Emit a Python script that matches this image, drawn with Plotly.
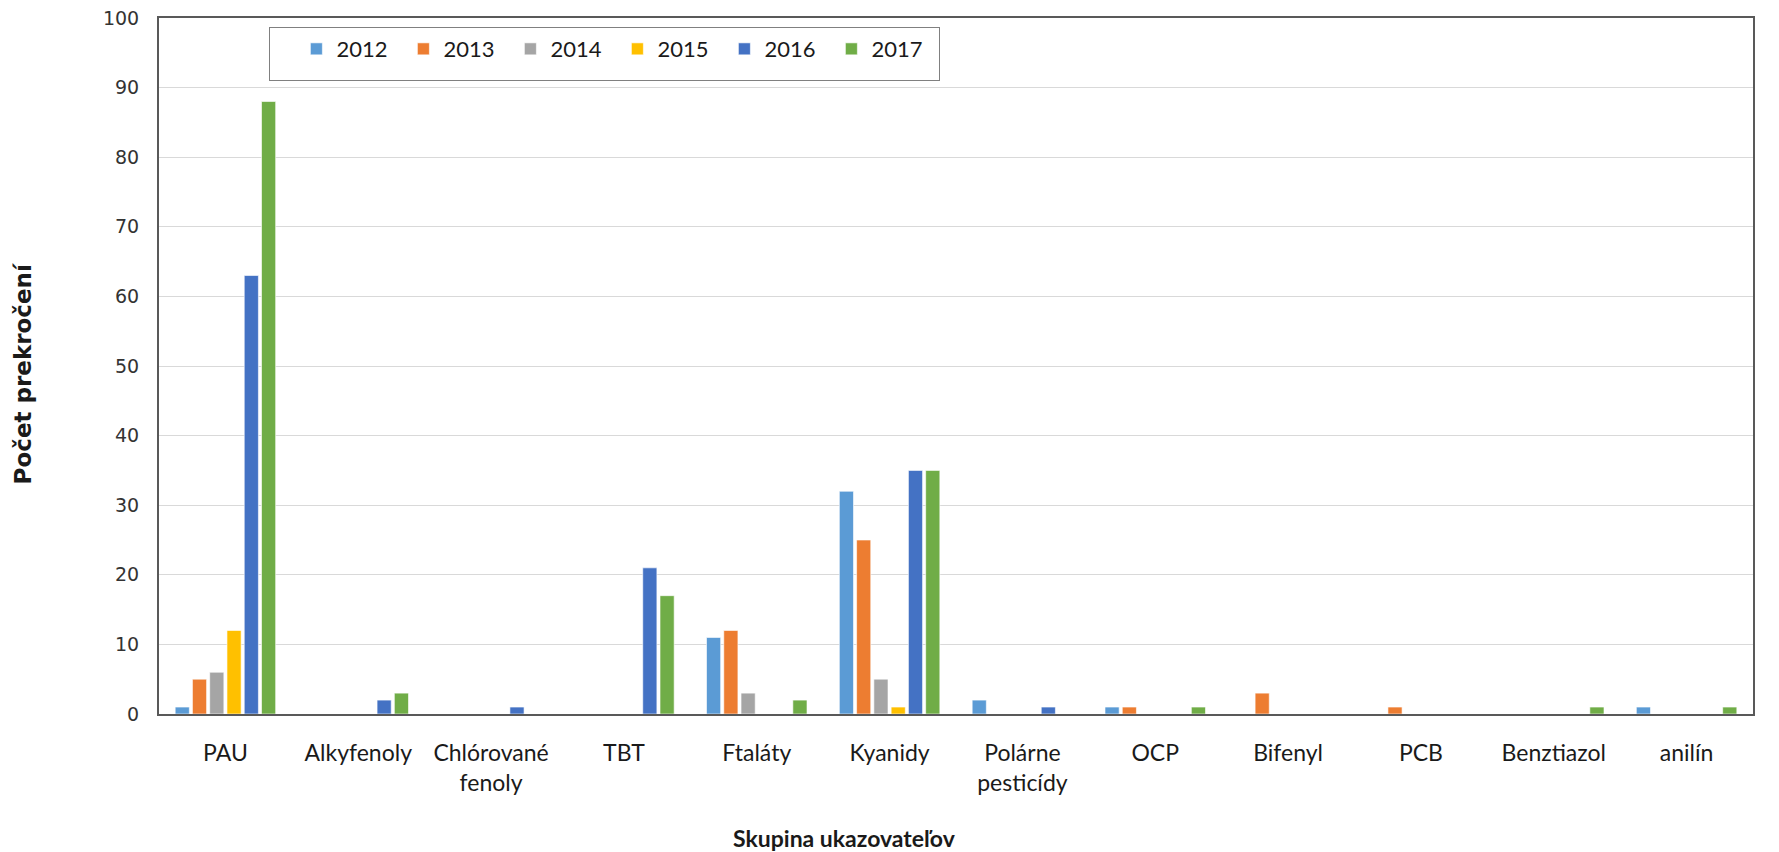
import plotly.graph_objects as go

categories = ["PAU", "Alkyfenoly", "Chlórované<br>fenoly", "TBT", "Ftaláty", "Kyanidy",
              "Polárne<br>pesticídy", "OCP", "Bifenyl", "PCB", "Benztiazol", "anilín"]
years = ["2012", "2013", "2014", "2015", "2016", "2017"]
v2012 = [1, 0, 0, 0, 11, 32, 2, 1, 0, 0, 0, 1]
v2013 = [5, 0, 0, 0, 12, 25, 0, 1, 3, 1, 0, 0]
v2014 = [6, 0, 0, 0, 3, 5, 0, 0, 0, 0, 0, 0]
v2015 = [12, 0, 0, 0, 0, 1, 0, 0, 0, 0, 0, 0]
v2016 = [63, 2, 1, 21, 0, 35, 1, 0, 0, 0, 0, 0]
v2017 = [88, 3, 0, 17, 2, 35, 0, 1, 0, 0, 1, 1]
y_ticks = [0, 10, 20, 30, 40, 50, 60, 70, 80, 90, 100]

COLORS = ["#5B9BD5", "#ED7D31", "#A5A5A5", "#FFC000", "#4472C4", "#70AD47"]
FONT = "Lato, sans-serif"

fig = go.Figure()
for yr, vals, col in zip(years, [v2012, v2013, v2014, v2015, v2016, v2017], COLORS):
    fig.add_trace(go.Bar(x=categories, y=vals, name=yr,
                         marker=dict(color=col, line=dict(color="rgba(255,255,255,0.6)", width=1))))

# the page body has an 8px margin, so the figure is sized to end exactly at the window edge
fig.update_layout(
    width=1771, height=844, paper_bgcolor="white", plot_bgcolor="white",
    margin=dict(l=151, r=26, t=10, b=138),
    barmode="group", bargap=0.22, bargroupgap=0.18,
    font=dict(family=FONT, size=23, color="#1a1a1a"),
    xaxis=dict(showline=True, linecolor="#595959", linewidth=2, mirror=True, showgrid=False, automargin=False,
               tickfont=dict(family=FONT, size=23), ticklabelstandoff=17),
    yaxis=dict(range=[0, 100], tickvals=y_ticks, showline=True, linecolor="#595959", linewidth=2, mirror=True,
               gridcolor="#d9d9d9", gridwidth=1, zeroline=False, automargin=False, ticklabeloverflow="allow",
               tickfont=dict(family="DejaVu Sans", size=19, color="#333333"), ticklabelstandoff=14),
    legend=dict(orientation="h", x=0.069, y=0.987, xanchor="left", yanchor="top",
                bordercolor="#808080", borderwidth=1, bgcolor="white",
                title=dict(text="&nbsp;&nbsp;", font=dict(family=FONT, size=32)),
                font=dict(family=FONT, size=22), entrywidth=62, itemwidth=30),
    showlegend=True,
    annotations=[
        dict(text="<b>Skupina ukazovateľov</b>", xref="paper", yref="paper", x=0.43, y=-0.178,
             yanchor="middle", showarrow=False, font=dict(family=FONT, size=23)),
        dict(text="<b>Počet prekročení</b>", xref="paper", yref="paper", x=-0.0853, y=0.488,
             xanchor="center", yanchor="middle", textangle=-90, showarrow=False,
             font=dict(family="DejaVu Sans", size=23)),
    ],
)

fig.write_html("out.html")
